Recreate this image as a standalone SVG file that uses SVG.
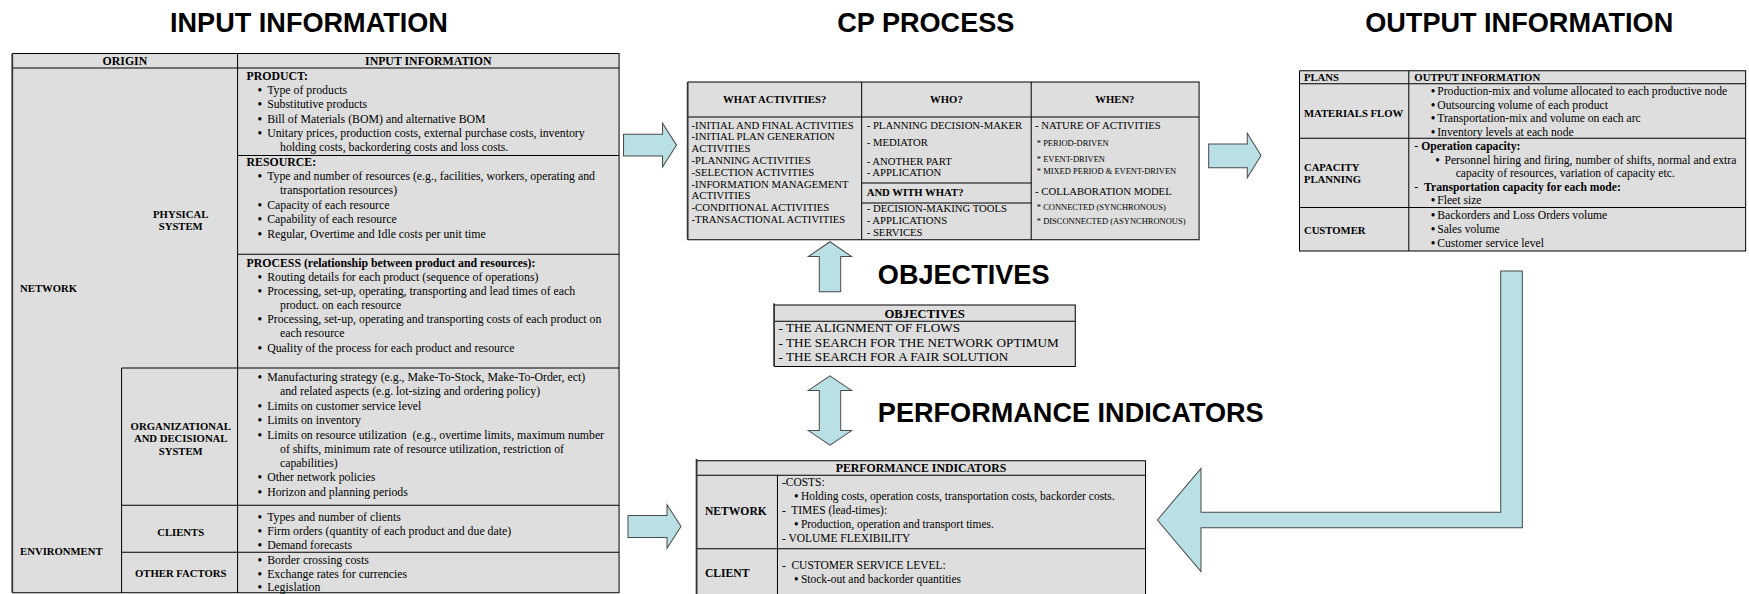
<svg xmlns="http://www.w3.org/2000/svg" width="1749" height="594" viewBox="0 0 1749 594">
<style>
.h{font-family:"Liberation Sans",Arial,sans-serif;font-weight:bold;font-size:24.3px;fill:#000}
.t{font-family:"Liberation Serif","Times New Roman",serif;font-size:10.6px;fill:#000}
.s{font-size:9.6px}
.o{font-size:11.8px}
.p{font-size:10.3px}
.u{font-size:10.45px}
.x{font-size:7.6px}
.b{font-weight:bold}
.lb{font-weight:bold;font-size:9.6px}
.hd{font-weight:bold;font-size:10.6px}
.m{text-anchor:middle}
.cell{fill:#dedede;stroke:none}
.ln{stroke:#000;stroke-width:0.9;fill:none}
.lb2{stroke:#333;stroke-width:1.6;fill:none}
.arr{fill:#b9e0e4;stroke:#4a4a4a;stroke-width:0.9;stroke-linejoin:miter}
</style>
<rect width="1749" height="594" fill="#fff"/>
<g transform="scale(1.11543)">
<g id="titles">
<text class="h m" x="277" y="29">INPUT INFORMATION</text>
<text class="h m" x="830" y="29">CP PROCESS</text>
<text class="h m" x="1362" y="29">OUTPUT INFORMATION</text>
<text class="h" x="787" y="255">OBJECTIVES</text>
<text class="h" x="787" y="378">PERFORMANCE INDICATORS</text>
</g>

<g id="input-table">
<rect class="cell" x="11" y="48" width="544" height="483.5"/>
<path class="ln" d="M11,48H555V531.5H11M11,61H555M213,48V531.5M213,139.5H555M213,228H555M109,330H555M109,453H555M109,495H555M109,330V531.5"/>
<path class="lb2" d="M11,48V531.5"/>
<text class="t hd m" x="112" y="58.5">ORIGIN</text>
<text class="t hd m" x="384" y="58.5">INPUT INFORMATION</text>
<text class="t lb" x="18" y="261.5">NETWORK</text>
<text class="t lb m" x="162" y="195.5">PHYSICAL</text>
<text class="t lb m" x="162" y="206.5">SYSTEM</text>
<text class="t lb m" x="162" y="385.5">ORGANIZATIONAL</text>
<text class="t lb m" x="162" y="396.5">AND DECISIONAL</text>
<text class="t lb m" x="162" y="407.5">SYSTEM</text>
<text class="t lb m" x="162" y="480.5">CLIENTS</text>
<text class="t lb m" x="162" y="517.5">OTHER FACTORS</text>
<text class="t lb" x="18" y="497.5">ENVIRONMENT</text>

<text class="t b" x="221" y="72">PRODUCT:</text>
<text class="t b" x="231" y="84.5">•</text><text class="t" x="239.5" y="84.5">Type of products</text>
<text class="t b" x="231" y="97">•</text><text class="t" x="239.5" y="97">Substitutive products</text>
<text class="t b" x="231" y="110">•</text><text class="t" x="239.5" y="110">Bill of Materials (BOM) and alternative BOM</text>
<text class="t b" x="231" y="123">•</text><text class="t" x="239.5" y="123">Unitary prices, production costs, external purchase costs, inventory</text>
<text class="t" x="251" y="135.5">holding costs, backordering costs and loss costs.</text>

<text class="t b" x="221" y="149">RESOURCE:</text>
<text class="t b" x="231" y="161.5">•</text><text class="t" x="239.5" y="161.5">Type and number of resources (e.g., facilities, workers, operating and</text>
<text class="t" x="251" y="174">transportation resources)</text>
<text class="t b" x="231" y="187">•</text><text class="t" x="239.5" y="187">Capacity of each resource</text>
<text class="t b" x="231" y="200">•</text><text class="t" x="239.5" y="200">Capability of each resource</text>
<text class="t b" x="231" y="213">•</text><text class="t" x="239.5" y="213">Regular, Overtime and Idle costs per unit time</text>

<text class="t b" x="221" y="239">PROCESS (relationship between product and resources):</text>
<text class="t b" x="231" y="251.5">•</text><text class="t" x="239.5" y="251.5">Routing details for each product (sequence of operations)</text>
<text class="t b" x="231" y="264.5">•</text><text class="t" x="239.5" y="264.5">Processing, set-up, operating, transporting and lead times of each</text>
<text class="t" x="251" y="277">product. on each resource</text>
<text class="t b" x="231" y="290">•</text><text class="t" x="239.5" y="290">Processing, set-up, operating and transporting costs of each product on</text>
<text class="t" x="251" y="302.5">each resource</text>
<text class="t b" x="231" y="315.5">•</text><text class="t" x="239.5" y="315.5">Quality of the process for each product and resource</text>

<text class="t b" x="231" y="342">•</text><text class="t" x="239.5" y="342">Manufacturing strategy (e.g., Make-To-Stock, Make-To-Order, ect)</text>
<text class="t" x="251" y="354.5">and related aspects (e.g. lot-sizing and ordering policy)</text>
<text class="t b" x="231" y="367.5">•</text><text class="t" x="239.5" y="367.5">Limits on customer service level</text>
<text class="t b" x="231" y="380.5">•</text><text class="t" x="239.5" y="380.5">Limits on inventory</text>
<text class="t b" x="231" y="393.5">•</text><text class="t" x="239.5" y="393.5" xml:space="preserve">Limits on resource utilization  (e.g., overtime limits, maximum number</text>
<text class="t" x="251" y="406">of shifts, minimum rate of resource utilization, restriction of</text>
<text class="t" x="251" y="418.5">capabilities)</text>
<text class="t b" x="231" y="431.5">•</text><text class="t" x="239.5" y="431.5">Other network policies</text>
<text class="t b" x="231" y="444.5">•</text><text class="t" x="239.5" y="444.5">Horizon and planning periods</text>

<text class="t b" x="231" y="467">•</text><text class="t" x="239.5" y="467">Types and number of clients</text>
<text class="t b" x="231" y="479.5">•</text><text class="t" x="239.5" y="479.5">Firm orders (quantity of each product and due date)</text>
<text class="t b" x="231" y="492">•</text><text class="t" x="239.5" y="492">Demand forecasts</text>
<text class="t b" x="231" y="506">•</text><text class="t" x="239.5" y="506">Border crossing costs</text>
<text class="t b" x="231" y="518">•</text><text class="t" x="239.5" y="518">Exchange rates for currencies</text>
<text class="t b" x="231" y="529.5">•</text><text class="t" x="239.5" y="529.5">Legislation</text>
</g>

<g id="cp-table">
<rect class="cell" x="616.5" y="73.5" width="458.5" height="141.5"/>
<path class="ln" d="M616.5,73.5H1075V215H616.5M616.5,105H1075M772.5,73.5V215M924.5,73.5V215M772.5,164H924.5M772.5,182H924.5"/>
<path class="lb2" d="M616.5,73.5V215"/>
<text class="t s b m" x="694.5" y="92.7">WHAT ACTIVITIES?</text>
<text class="t s b m" x="848.5" y="92.7">WHO?</text>
<text class="t s b m" x="999.5" y="92.7">WHEN?</text>
<text class="t s" x="620" y="115.3">-INITIAL AND FINAL ACTIVITIES</text>
<text class="t s" x="620" y="125.9">-INITIAL PLAN GENERATION</text>
<text class="t s" x="620" y="136.4">ACTIVITIES</text>
<text class="t s" x="620" y="147">-PLANNING ACTIVITIES</text>
<text class="t s" x="620" y="157.5">-SELECTION ACTIVITIES</text>
<text class="t s" x="620" y="168.1">-INFORMATION MANAGEMENT</text>
<text class="t s" x="620" y="178.6">ACTIVITIES</text>
<text class="t s" x="620" y="189.2">-CONDITIONAL ACTIVITIES</text>
<text class="t s" x="620" y="199.7">-TRANSACTIONAL ACTIVITIES</text>
<text class="t s" x="777" y="115.3">- PLANNING DECISION-MAKER</text>
<text class="t s" x="777" y="131.1">- MEDIATOR</text>
<text class="t s" x="777" y="147.5">- ANOTHER PART</text>
<text class="t s" x="777" y="158.2">- APPLICATION</text>
<text class="t s b" x="777" y="175.5">AND WITH WHAT?</text>
<text class="t s" x="777" y="190.2">- DECISION-MAKING TOOLS</text>
<text class="t s" x="777" y="201">- APPLICATIONS</text>
<text class="t s" x="777" y="211.5">- SERVICES</text>
<text class="t s" x="928" y="115.3">- NATURE OF ACTIVITIES</text>
<text class="t x" x="929.5" y="131">* PERIOD-DRIVEN</text>
<text class="t x" x="929.5" y="145.5">* EVENT-DRIVEN</text>
<text class="t x" x="929.5" y="156">* MIXED PERIOD &amp; EVENT-DRIVEN</text>
<text class="t s" x="928" y="175">- COLLABORATION MODEL</text>
<text class="t x" x="929.5" y="188.5">* CONNECTED (SYNCHRONOUS)</text>
<text class="t x" x="929.5" y="200.5">* DISCONNECTED (ASYNCHRONOUS)</text>
</g>

<g id="objectives-table">
<rect class="cell" x="694" y="273.5" width="270" height="55"/>
<path class="ln" d="M694,273.5H964V328.5H694M694,288H964"/>
<path class="lb2" d="M694,272V328.5"/>
<text class="t b m" x="829" y="285" style="font-size:11.4px">OBJECTIVES</text>
<text class="t o" x="698" y="298">- THE ALIGNMENT OF FLOWS</text>
<text class="t o" x="698" y="311">- THE SEARCH FOR THE NETWORK OPTIMUM</text>
<text class="t o" x="698" y="323.5">- THE SEARCH FOR A FAIR SOLUTION</text>
</g>

<g id="performance-table">
<rect class="cell" x="624.5" y="413" width="402.5" height="130"/>
<path class="ln" d="M624.5,413H1027V543M624.5,426H1027M697,426V543M624.5,492H1027"/>
<path class="lb2" d="M624.5,411.5V543"/>
<text class="t hd m" x="825.7" y="423.5">PERFORMANCE INDICATORS</text>
<text class="t b" x="632" y="462" style="font-size:10.4px">NETWORK</text>
<text class="t b" x="632" y="517" style="font-size:10.4px">CLIENT</text>
<text class="t p" x="701" y="435.5">-COSTS:</text>
<text class="t p b" x="712" y="448">•</text><text class="t p" x="718" y="448">Holding costs, operation costs, transportation costs, backorder costs.</text>
<text class="t p" x="701" y="460.5" xml:space="preserve">-  TIMES (lead-times):</text>
<text class="t p b" x="712" y="473">•</text><text class="t p" x="718" y="473">Production, operation and transport times.</text>
<text class="t p" x="701" y="485.5">- VOLUME FLEXIBILITY</text>
<text class="t p" x="701" y="510.5" xml:space="preserve">-  CUSTOMER SERVICE LEVEL:</text>
<text class="t p b" x="712" y="523">•</text><text class="t p" x="718" y="523">Stock-out and backorder quantities</text>
</g>

<g id="output-table">
<rect class="cell" x="1165" y="63.5" width="400" height="161.5"/>
<path class="ln" d="M1165,63.5H1565V225H1165V63.5M1165,75H1565M1263,63.5V225M1165,124H1565M1165,186H1565"/>
<text class="t s b" x="1169" y="72.5">PLANS</text>
<text class="t s b" x="1268" y="72.5">OUTPUT INFORMATION</text>
<text class="t s b" x="1169" y="104.5">MATERIALS FLOW</text>
<text class="t s b" x="1169" y="153.5">CAPACITY</text>
<text class="t s b" x="1169" y="164.5">PLANNING</text>
<text class="t s b" x="1169" y="209.5">CUSTOMER</text>
<text class="t u b" x="1283" y="85.5">•</text><text class="t u" x="1288.5" y="85.5">Production-mix and volume allocated to each productive node</text>
<text class="t u b" x="1283" y="97.5">•</text><text class="t u" x="1288.5" y="97.5">Outsourcing volume of each product</text>
<text class="t u b" x="1283" y="109.5">•</text><text class="t u" x="1288.5" y="109.5">Transportation-mix and volume on each arc</text>
<text class="t u b" x="1283" y="121.5">•</text><text class="t u" x="1288.5" y="121.5">Inventory levels at each node</text>
<text class="t u" x="1268" y="134.5">- <tspan class="b">Operation capacity:</tspan></text>
<text class="t u b" x="1287" y="147">•</text><text class="t u" x="1295" y="147">Personnel hiring and firing, number of shifts, normal and extra</text>
<text class="t u" x="1305" y="159">capacity of resources, variation of capacity etc.</text>
<text class="t u" x="1268" y="171" xml:space="preserve">-  <tspan class="b">Transportation capacity for each mode:</tspan></text>
<text class="t u b" x="1283" y="183">•</text><text class="t u" x="1288.5" y="183">Fleet size</text>
<text class="t u b" x="1283" y="196.5">•</text><text class="t u" x="1288.5" y="196.5">Backorders and Loss Orders volume</text>
<text class="t u b" x="1283" y="209">•</text><text class="t u" x="1288.5" y="209">Sales volume</text>
<text class="t u b" x="1283" y="221.5">•</text><text class="t u" x="1288.5" y="221.5">Customer service level</text>
</g>

<g id="connectors">
<path id="arrow-input-cp" class="arr" d="M559,120.4H594V110.5L606.5,130.1L594,149.7V139.9H559Z"/>
<path id="arrow-input-perf" class="arr" d="M563,462.2H598V452.4L610.5,472L598,491.6V481.8H563Z"/>
<path id="arrow-cp-output" class="arr" d="M1083.6,129.1H1118.2V119.5L1130.5,139.4L1118.2,159.3V150.3H1083.6Z"/>
<path id="arrow-objectives" class="arr" d="M744.1,216.7L763.5,230H753.7V261.5H734.5V230H724.7Z"/>
<path id="arrow-obj-perf" class="arr" d="M744.1,337L763.5,350H753.7V386H763.5L744.1,399L724.7,386H734.5V350H724.7Z"/>
<path id="arrow-output-perf" class="arr" d="M1345.4,243H1364.8V473.1H1076.7V512.5L1037.6,466.2L1076.7,419.9V459.3H1345.4Z"/>
</g>
</g>
</svg>
